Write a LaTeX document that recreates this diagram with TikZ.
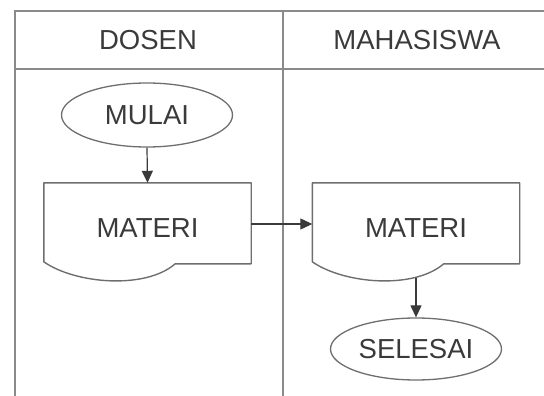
\documentclass[tikz,border=0pt]{standalone}
\usepackage{fontspec}
\setmainfont{Liberation Sans}
\usetikzlibrary{shapes.geometric,arrows.meta}

\definecolor{gridgray}{HTML}{8A8A8A}
\definecolor{shapegray}{HTML}{6E6E6E}
\definecolor{inkgray}{HTML}{3A3A3A}

\tikzset{
  lane/.style={draw=gridgray, line width=1.8pt},
  lanetitle/.style={text=inkgray, font=\fontsize{27.5}{30}\selectfont, inner sep=0pt},
  terminal/.style={ellipse, draw=shapegray, line width=1.3pt, minimum width=171pt,
    inner sep=0pt, text=inkgray, font=\fontsize{27.5}{30}\selectfont},
  docbody/.style={rectangle, draw=none, minimum width=207pt, minimum height=90pt,
    inner sep=0pt, text height=19.7pt, text depth=0pt, text=inkgray,
    font=\fontsize{27.5}{30}\selectfont},
  docline/.style={draw=shapegray, line width=1.4pt, line join=round},
  flow/.style={draw=inkgray, line width=1.2pt,
    -{Triangle[length=12pt, width=11pt]}}
}

% document symbol: flat top, wavy bottom
\newcommand\docoutline[1]{%
  \draw[docline] (#1.north west) -- (#1.north east)
    -- ([yshift=-81pt]#1.north east)
    -- ([xshift=-76pt,yshift=-81pt]#1.north east)
    .. controls ([xshift=-106pt,yshift=-107pt]#1.north east)
       and ([xshift=-176pt,yshift=-101pt]#1.north east)
    .. ([yshift=-79pt]#1.north west) -- cycle;}

\begin{document}
\begin{tikzpicture}[x=1pt, y=-1pt]
  \useasboundingbox (0,0) rectangle (544,396);

  % swimlane grid
  \coordinate (tl) at (15,11);
  \coordinate (tr) at (544,11);
  \coordinate (hl) at (15,69);
  \coordinate (hr) at (544,69);
  \coordinate (bl) at (15,396);
  \coordinate (mt) at (283,11);
  \coordinate (mb) at (283,396);
  \draw[lane] (tr) -- (tl) -- (bl);
  \draw[lane] (hl) -- (hr);
  \draw[lane] (mt) -- (mb);

  % lane titles
  \node[lanetitle] (dosen) at (148,40) {DOSEN};
  \node[lanetitle] (mhs) at (417,40) {MAHASISWA};

  % flow
  \node[terminal, minimum height=64pt] (mulai) at (147,115) {MULAI};
  \node[docbody] (doc1) at (147.5,228) {MATERI};
  \docoutline{doc1}
  \node[docbody] (doc2) at (416,228) {MATERI};
  \docoutline{doc2}
  \node[terminal, minimum height=62pt] (selesai) at (416,349) {SELESAI};

  \coordinate (doc2bot) at ([yshift=-95pt]doc2.north);

  \draw[flow] (mulai.south) -- (doc1.north);
  \draw[flow] ([yshift=4pt]doc1.east) -- ([yshift=4pt]doc2.west);
  \draw[flow] (doc2bot) -- (selesai.north);
\end{tikzpicture}
\end{document}
